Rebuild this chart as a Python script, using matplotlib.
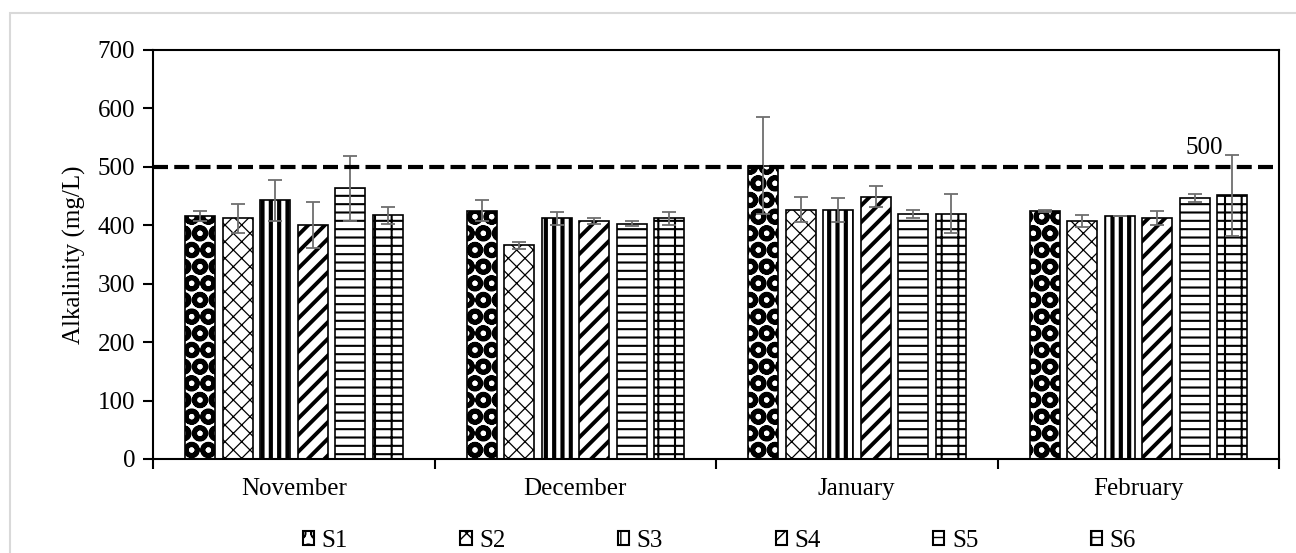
import matplotlib
matplotlib.use('Agg')
import matplotlib.pyplot as plt
from matplotlib.patches import Rectangle, Patch

plt.rcParams['font.family'] = ['Liberation Serif', 'DejaVu Serif']
plt.rcParams['font.size'] = 18

months = ['November', 'December', 'January', 'February']
series = ['S1', 'S2', 'S3', 'S4', 'S5', 'S6']
values = [
    [416, 425, 502, 424],   # S1
    [412, 366, 427, 407],   # S2
    [443, 412, 426, 416],   # S3
    [400, 407, 449, 413],   # S4
    [463, 403, 419, 447],   # S5
    [417, 412, 420, 451],   # S6
]
errors = [
    [8, 18, 83, 2],
    [25, 6, 21, 10],
    [35, 11, 20, 0],
    [39, 5, 18, 12],
    [55, 4, 7, 7],
    [15, 11, 33, 70],
]
limit = 500

hatches = ['O', 'xx', '||', '//', '--', '--|']
hatch_lws = [3.4, 0.9, 3.0, 2.8, 1.5, 1.5]

fig = plt.figure(figsize=(12.96, 5.53), dpi=100)
ax = fig.add_axes([0.1181, 0.17, 0.8688, 0.7396])

step = 0.1332
width = 0.1066
x = range(len(months))
for k, name in enumerate(series):
    pos = [i + (k - 2.5) * step for i in x]
    bars = ax.bar(pos, values[k], width=width, color='white', edgecolor='black',
                  linewidth=1.2, hatch=hatches[k], zorder=2)
    for b in bars:
        if hasattr(b, 'set_hatch_linewidth'):
            b.set_hatch_linewidth(hatch_lws[k])
    ax.errorbar(pos, values[k], yerr=errors[k], fmt='none', ecolor='#6e6e6e',
                elinewidth=1.3, capsize=5, capthick=1.3, zorder=3)

ax.axhline(limit, color='black', linewidth=3, dashes=(3.6, 1.5), zorder=4)
ax.text(3.3, limit + 14, '500', ha='right', va='bottom', fontsize=18)

ax.set_xlim(-0.5, 3.5)
ax.set_ylim(0, 700)
ax.set_yticks(range(0, 701, 100))
ax.set_xticks(list(x))
ax.set_xticklabels(months)
ax.set_xticks([-0.5, 0.5, 1.5, 2.5, 3.5], minor=True)
ax.tick_params(axis='x', which='major', length=0, pad=14)
ax.tick_params(axis='x', which='minor', length=7, width=1.5, direction='out')
ax.tick_params(axis='y', length=7, width=1.5, direction='out', pad=6)
for s in ax.spines.values():
    s.set_linewidth(1.5)
    s.set_color('black')
ax.set_ylabel('Alkalinity (mg/L)', labelpad=8)

handles = []
for k, name in enumerate(series):
    h = Patch(facecolor='white', edgecolor='black', linewidth=1.5, hatch=hatches[k], label=name)
    if hasattr(h, 'set_hatch_linewidth'):
        h.set_hatch_linewidth(min(hatch_lws[k], 2))
    handles.append(h)
fig.legend(handles=handles, loc='center', bbox_to_anchor=(0.555, 0.022), ncol=6,
           frameon=False, handlelength=0.45, handleheight=0.45, handletextpad=0.3,
           columnspacing=4.5, fontsize=18)

fig.add_artist(Rectangle((10 / 1296, -0.2), 1.2, 0.2 + (1 - 13 / 553), transform=fig.transFigure,
                         fill=False, edgecolor='#d9d9d9', linewidth=1.5))

fig.savefig('out.png', dpi=100)
